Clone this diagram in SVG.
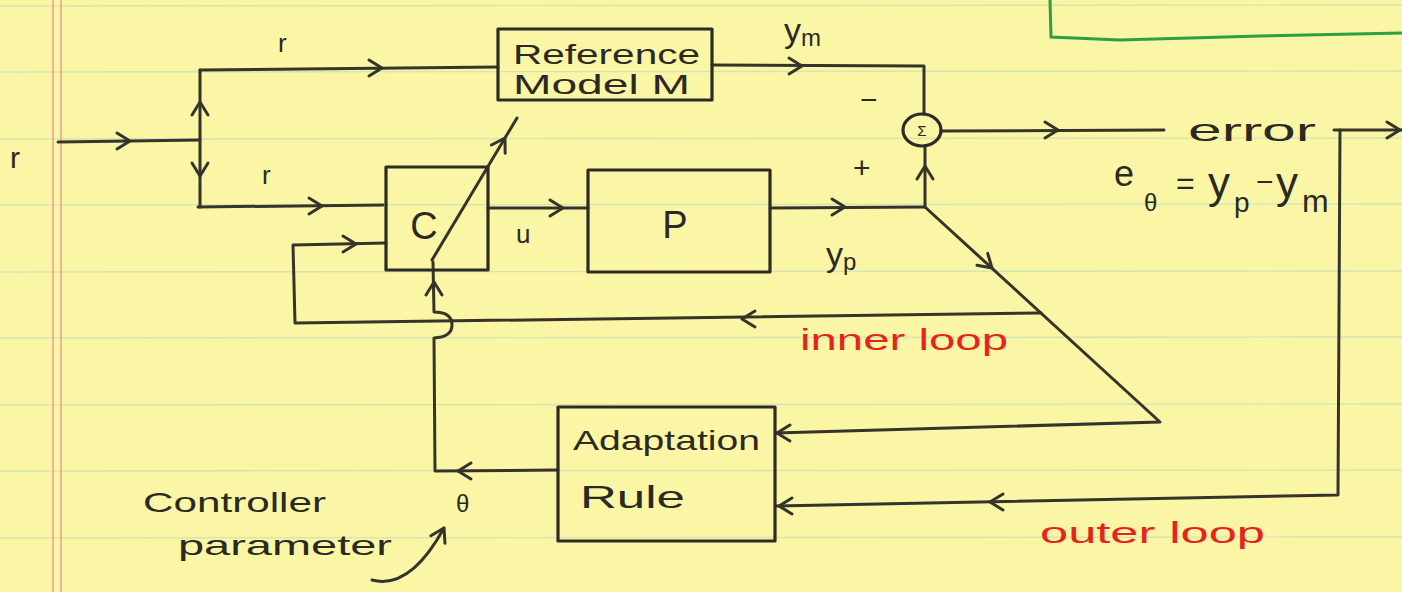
<svg xmlns="http://www.w3.org/2000/svg" xmlns:xlink="http://www.w3.org/1999/xlink" width="1402" height="592" viewBox="0 0 1402 592">
<defs>
<style>
.ink{fill:none;stroke:#34342a;stroke-width:3;stroke-linecap:round;stroke-linejoin:round}
.box{fill:none;stroke:#2c2c24;stroke-width:3.2;stroke-linejoin:round}
.t{font-family:"Liberation Sans","DejaVu Sans",sans-serif;fill:#2a2a22}
.red{font-family:"Liberation Sans","DejaVu Sans",sans-serif;fill:#e8231c}
.rule{stroke:#d3e5b2;stroke-width:1.4}
.margin{stroke:#f2a28c;stroke-width:1.6}
</style>
<path id="chev" d="M-13,-8 L0,0 L-13,8" fill="none" stroke="#34342a" stroke-width="3" stroke-linecap="round" stroke-linejoin="round"/>
</defs>
<rect width="1402" height="592" fill="#fbf6a6"/>
<g id="paper">
<line class="rule" x1="0" y1="6" x2="1402" y2="5"/>
<line class="rule" x1="0" y1="72" x2="1402" y2="71"/>
<line class="rule" x1="0" y1="139" x2="1402" y2="138"/>
<line class="rule" x1="0" y1="205" x2="1402" y2="204"/>
<line class="rule" x1="0" y1="272" x2="1402" y2="271"/>
<line class="rule" x1="0" y1="338" x2="1402" y2="337"/>
<line class="rule" x1="0" y1="405" x2="1402" y2="404"/>
<line class="rule" x1="0" y1="471" x2="1402" y2="470"/>
<line class="rule" x1="0" y1="538" x2="1402" y2="537"/>
<line class="margin" x1="53" y1="0" x2="53" y2="592"/>
<line class="margin" x1="61" y1="0" x2="61" y2="592"/>
<path d="M1050,0 L1051,37 L1120,40 L1260,36 L1402,33" fill="none" stroke="#2ea043" stroke-width="3"/>
</g>
<g id="connectors">
<path class="ink" d="M58,142 L200,140"/>
<path class="ink" d="M200,70 L200,207"/>
<path class="ink" d="M200,70 L498,67"/>
<path class="ink" d="M198,207 L383,205"/>
<path class="ink" d="M712,65 L924,66 L924,114"/>
<path class="ink" d="M488,208 L588,208"/>
<path class="ink" d="M770,208 L925,207"/>
<path class="ink" d="M925,207 L925,148"/>
<path class="ink" d="M941,131 L1164,130"/>
<path class="ink" d="M1334,130 L1402,130"/>
<path class="ink" d="M1340,130 L1338,495 L776,506"/>
<path class="ink" d="M925,207 L1160,422 L776,433"/>
<path class="ink" d="M1041,313 L295,323 L293,245 L386,243"/>
<path class="ink" d="M558,470 L435,471 L434,338 Q452,337 452,325 Q452,312 434,312 L433,262"/>
<path class="ink" d="M432,260 L517,118"/>
<path class="ink" d="M372,580 Q410,590 444,528"/>
<use xlink:href="#chev" transform="translate(130,141)"/>
<use xlink:href="#chev" transform="translate(200,102) rotate(-90)"/>
<use xlink:href="#chev" transform="translate(200,176) rotate(90)"/>
<use xlink:href="#chev" transform="translate(382,68)"/>
<use xlink:href="#chev" transform="translate(322,206)"/>
<use xlink:href="#chev" transform="translate(356,244)"/>
<use xlink:href="#chev" transform="translate(802,66)"/>
<use xlink:href="#chev" transform="translate(563,208)"/>
<use xlink:href="#chev" transform="translate(845,207)"/>
<use xlink:href="#chev" transform="translate(925,166) rotate(-90)"/>
<use xlink:href="#chev" transform="translate(1058,130)"/>
<use xlink:href="#chev" transform="translate(1400,130)"/>
<use xlink:href="#chev" transform="translate(992,268) rotate(42)"/>
<use xlink:href="#chev" transform="translate(742,319) rotate(180)"/>
<use xlink:href="#chev" transform="translate(777,433) rotate(180)"/>
<use xlink:href="#chev" transform="translate(990,502) rotate(180)"/>
<use xlink:href="#chev" transform="translate(779,506) rotate(180)"/>
<use xlink:href="#chev" transform="translate(458,471) rotate(180)"/>
<use xlink:href="#chev" transform="translate(434,282) rotate(-90)"/>
<use xlink:href="#chev" transform="translate(505,138) rotate(-59)"/>
<use xlink:href="#chev" transform="translate(444,528) rotate(-62)"/>
</g>
<g id="ref-model">
<rect class="box" x="498" y="29" width="214" height="71"/>
<text class="t" x="513" y="64" font-size="27" textLength="187" lengthAdjust="spacingAndGlyphs">Reference</text>
<text class="t" x="513" y="94" font-size="27" textLength="177" lengthAdjust="spacingAndGlyphs">Model M</text>
</g>
<g id="controller">
<rect class="box" x="386" y="167" width="102" height="103"/>
<text class="t" x="424" y="239" font-size="38" text-anchor="middle">C</text>
</g>
<g id="plant">
<rect class="box" x="588" y="170" width="182" height="102"/>
<text class="t" x="675" y="238" font-size="38" text-anchor="middle">P</text>
</g>
<g id="sum">
<ellipse class="box" cx="922" cy="130" rx="19" ry="16"/>
<text class="t" x="922" y="136" font-size="15" text-anchor="middle">Σ</text>
</g>
<g id="adaptation">
<rect class="box" x="558" y="407" width="217" height="134"/>
<text class="t" x="573" y="450" font-size="28" textLength="187" lengthAdjust="spacingAndGlyphs">Adaptation</text>
<text class="t" x="580" y="508" font-size="32" textLength="105" lengthAdjust="spacingAndGlyphs">Rule</text>
</g>
<g id="labels">
<text class="t" x="10" y="168" font-size="30">r</text>
<text class="t" x="278" y="52" font-size="26">r</text>
<text class="t" x="262" y="184" font-size="26">r</text>
<text class="t" x="784" y="42" font-size="34">y<tspan font-size="24" dy="4">m</tspan></text>
<text class="t" x="860" y="110" font-size="30">−</text>
<text class="t" x="853" y="178" font-size="30">+</text>
<text class="t" x="516" y="243" font-size="26">u</text>
<text class="t" x="826" y="266" font-size="34">y<tspan font-size="24" dy="4">p</tspan></text>
<text class="t" x="1188" y="141" font-size="32" textLength="128" lengthAdjust="spacingAndGlyphs">error</text>
<text class="t" font-size="36"><tspan x="1114" y="186">e</tspan><tspan x="1144" y="211" font-size="24">θ</tspan><tspan x="1176" y="194" font-size="32">=</tspan><tspan x="1208" y="198" font-size="44">y</tspan><tspan x="1234" y="212" font-size="28">p</tspan><tspan x="1256" y="192" font-size="30">−</tspan><tspan x="1276" y="198" font-size="44">y</tspan><tspan x="1302" y="212" font-size="32">m</tspan></text>
<text class="red" x="800" y="350" font-size="30" textLength="208" lengthAdjust="spacingAndGlyphs">inner loop</text>
<text class="red" x="1040" y="543" font-size="30" textLength="225" lengthAdjust="spacingAndGlyphs">outer loop</text>
<text class="t" x="143" y="512" font-size="28" textLength="183" lengthAdjust="spacingAndGlyphs">Controller</text>
<text class="t" x="178" y="555" font-size="28" textLength="214" lengthAdjust="spacingAndGlyphs">parameter</text>
<text class="t" x="456" y="512" font-size="24">θ</text>
</g>
</svg>
